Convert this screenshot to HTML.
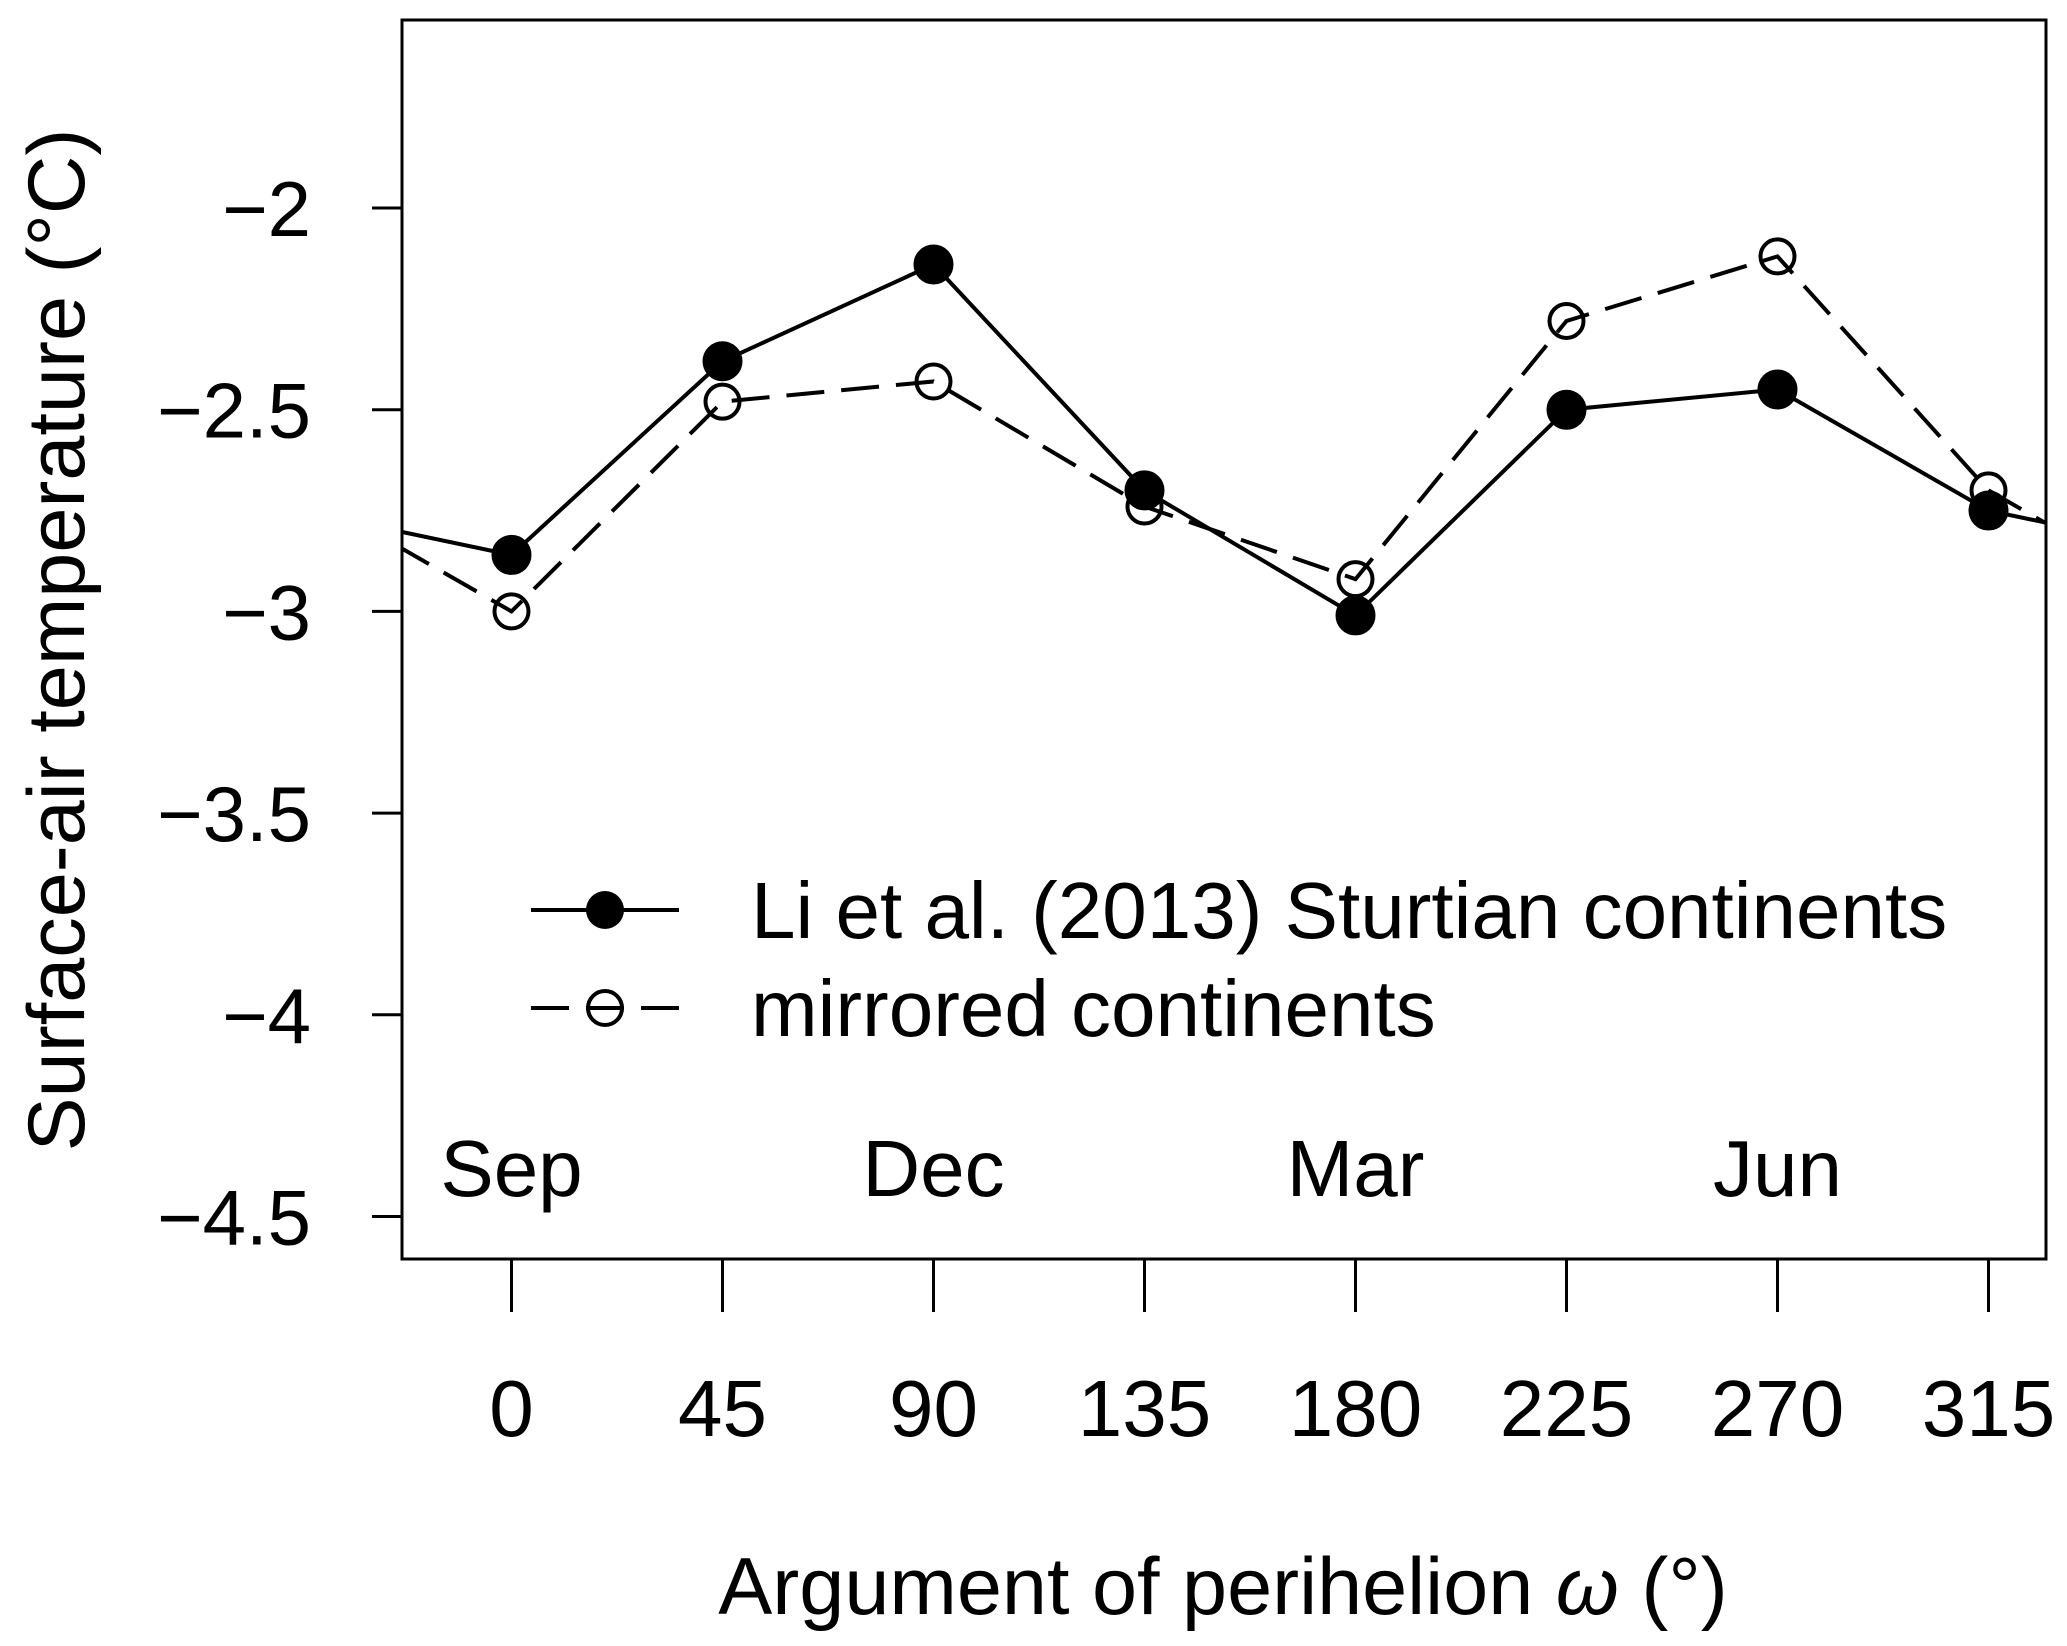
<!DOCTYPE html>
<html><head><meta charset="utf-8"><style>
html,body{margin:0;padding:0;background:#fff;}
svg text{font-family:"Liberation Sans",Arial,sans-serif;fill:#000;}
</style></head><body>
<svg id="chart" width="2067" height="1641" viewBox="0 0 2067 1641" xmlns="http://www.w3.org/2000/svg">
<defs><clipPath id="plotclip"><rect x="402" y="20" width="1644" height="1239"/></clipPath></defs>
<g id="plot"></g>
</svg>
<script>
const categories = [0, 45, 90, 135, 180, 225, 270, 315];
const sturtian = [-2.86, -2.38, -2.14, -2.70, -3.01, -2.50, -2.45, -2.75];
const mirrored = [-3.00, -2.48, -2.43, -2.74, -2.92, -2.28, -2.12, -2.70];
const yTicks = [-2, -2.5, -3, -3.5, -4, -4.5];
const yTickLabels = ["\u22122", "\u22122.5", "\u22123", "\u22123.5", "\u22124", "\u22124.5"];
const months = ["Sep", "Dec", "Mar", "Jun"];
const monthPositions = [0, 90, 180, 270];

const NS = "http://www.w3.org/2000/svg";
const svg = document.getElementById('plot');
function xs(v){ return 511.5 + (v/45)*211; }
function ys(v){ return 208 + (-2 - v)*403.4; }
function mk(tag, attrs, parent){ const e=document.createElementNS(NS,tag); for(const k in attrs) e.setAttribute(k,attrs[k]); (parent||svg).appendChild(e); return e; }

const box = mk('rect',{x:402,y:20,width:1644,height:1239,fill:'none',stroke:'#000','stroke-width':3});



yTicks.forEach((t,i)=>{
  const l = mk('line',{x1:372,x2:402,y1:ys(t),y2:ys(t),stroke:'#000','stroke-width':3});
  
  
  const tx = mk('text',{x:311,y:ys(t)+28,'text-anchor':'end','font-size':78});
  tx.textContent = yTickLabels[i];
  
  
});
categories.forEach(c=>{
  const l = mk('line',{x1:xs(c),x2:xs(c),y1:1259,y2:1312,stroke:'#000','stroke-width':3});
  
  
  const tx = mk('text',{x:xs(c),y:1436,'text-anchor':'middle','font-size':80});
  tx.textContent = String(c);
  
  
});
months.forEach((m,i)=>{
  const tx = mk('text',{x:xs(monthPositions[i]),y:1196,'text-anchor':'middle','font-size':80});
  tx.textContent = m;
  
  
});

function drawSeries(vals, dashed, filled, name){
  const g = mk('g',{'clip-path':'url(#plotclip)'});
  
  
  const pts = [[-45, vals[vals.length-1]]].concat(categories.map((c,i)=>[c,vals[i]])).concat([[360, vals[0]]]);
  const d = pts.map((p,i)=>(i?'L':'M')+xs(p[0])+' '+ys(p[1])).join(' ');
  const path = mk('path',{d:d,fill:'none',stroke:'#000','stroke-width':4,'stroke-dasharray':dashed?'38 17':'none'},g);
  
  
  categories.forEach((c,i)=>{
    const p = mk('circle',{cx:xs(c),cy:ys(vals[i]),r:filled?19:17,fill:filled?'#000':'none',stroke:'#000','stroke-width':filled?2:4},g);
    
    
  });
}
drawSeries(mirrored, true, false, 'mirrored-series');
drawSeries(sturtian, false, true, 'sturtian-series');
</script>
<svg style="position:absolute;left:0;top:0" width="2067" height="1641">
<g>
<line x1="531" x2="679" y1="910" y2="910" stroke="#000" stroke-width="4"/>
<circle cx="605" cy="910" r="19" fill="#000"/>
<text x="751" y="938" font-size="80">Li et al. (2013) Sturtian continents</text>
<line x1="531" x2="679" y1="1008" y2="1008" stroke="#000" stroke-width="4" stroke-dasharray="38 17"/>
<circle cx="605" cy="1008" r="17" fill="none" stroke="#000" stroke-width="4"/>
<text x="751" y="1036" font-size="80">mirrored continents</text>
</g>
<text x="1223" y="1614" text-anchor="middle" font-size="81">Argument of perihelion <tspan font-style="italic">ω</tspan> (°)</text>
<text transform="translate(84,640) rotate(-90)" text-anchor="middle" font-size="81">Surface-air temperature (°C)</text>
</svg>
</body></html>
